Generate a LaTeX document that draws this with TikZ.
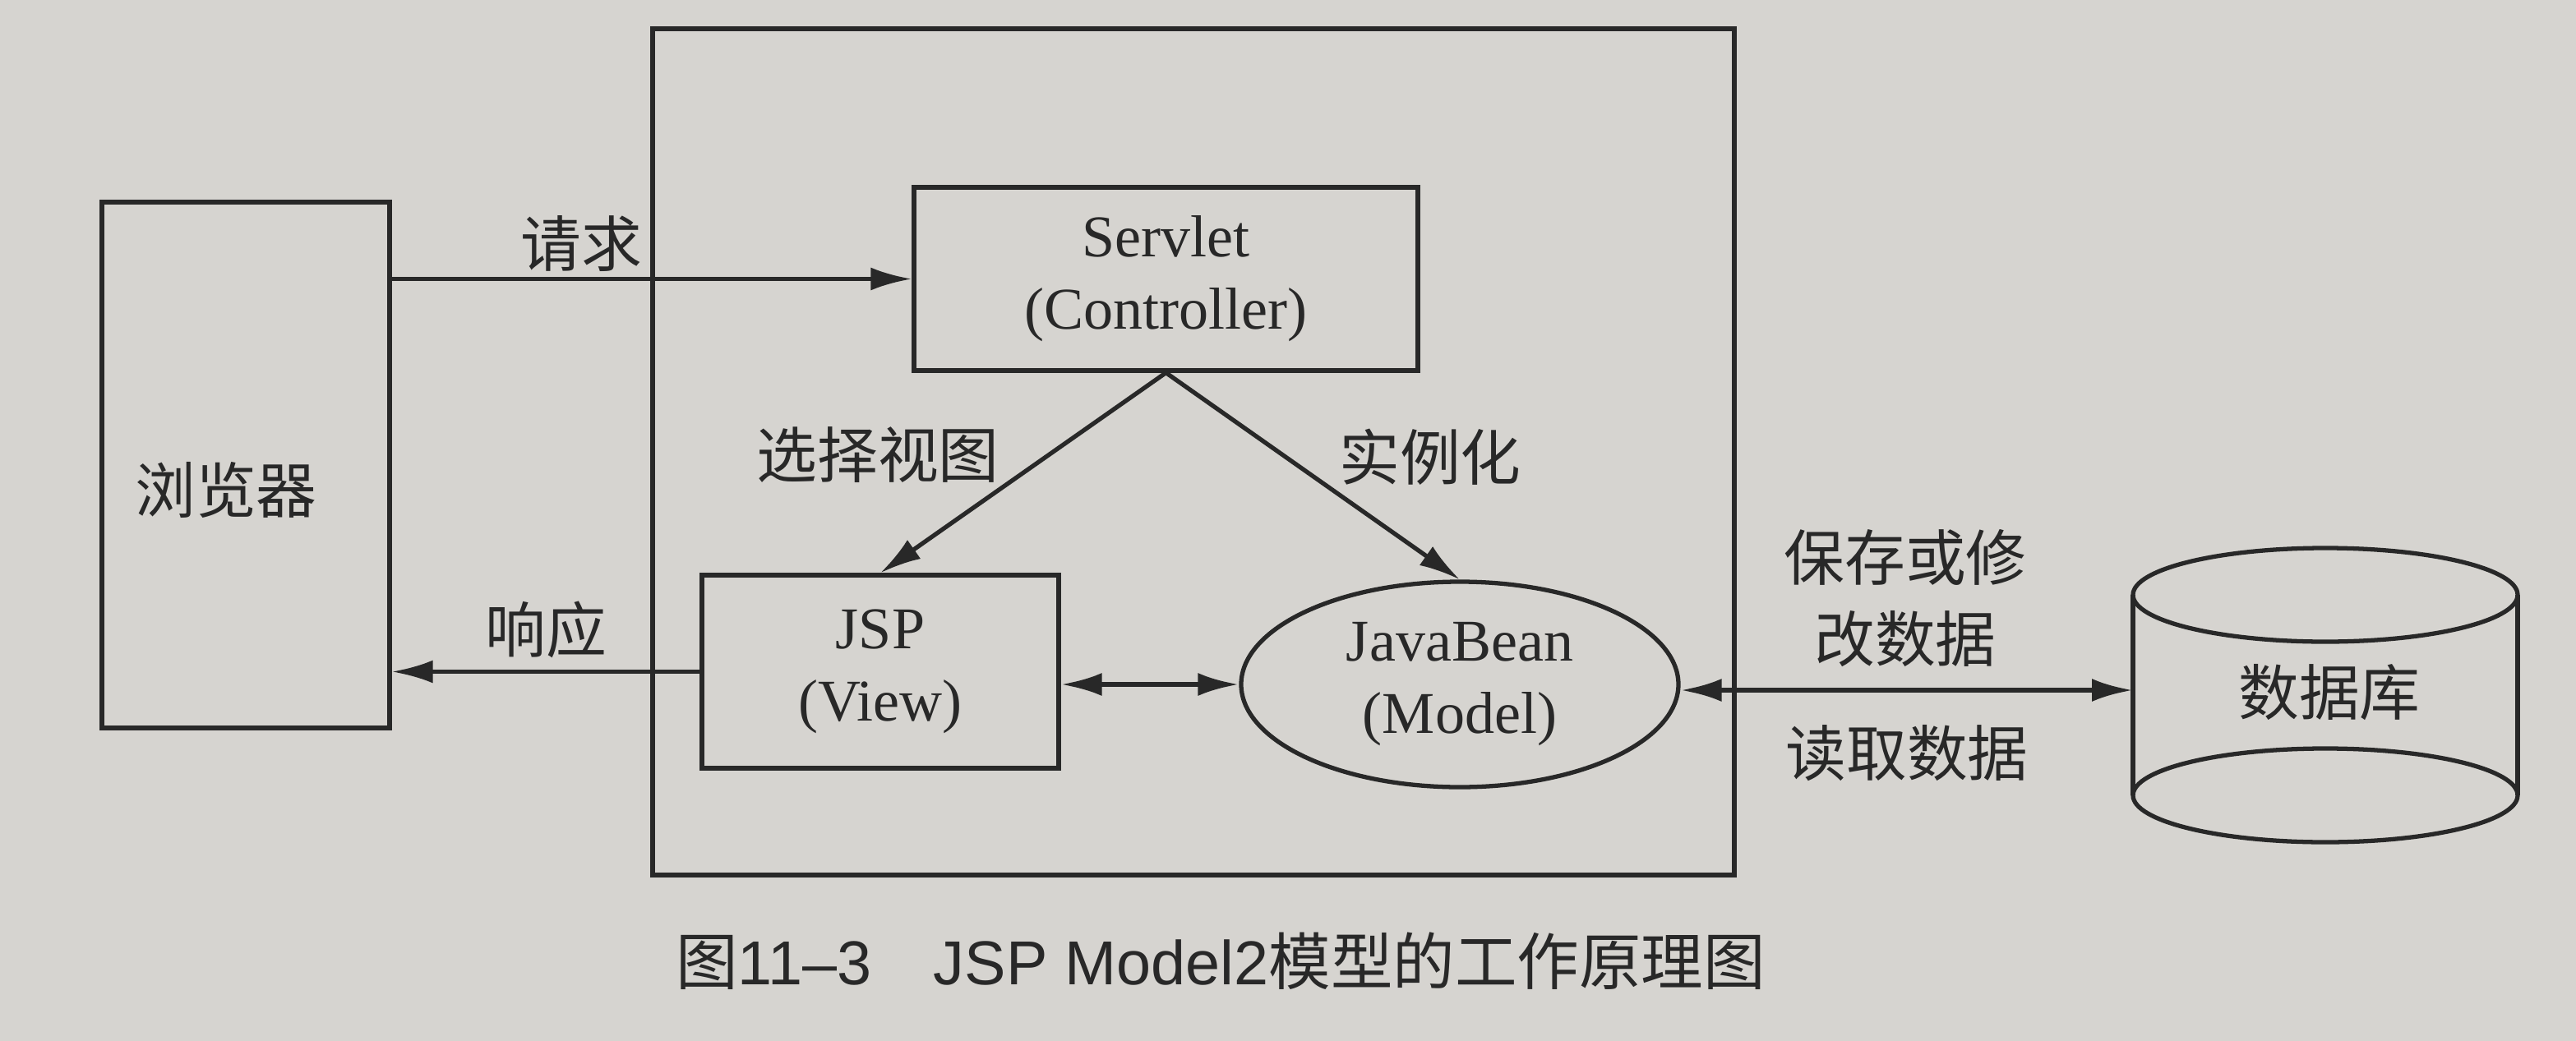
\documentclass[tikz,border=0pt]{standalone}
\usepackage{fontspec}
\setmainfont{Liberation Serif}
\newfontfamily\cjk{Noto Sans CJK SC}
\newfontfamily\capfont{Liberation Sans}
\usetikzlibrary{arrows.meta,shapes.geometric}

\definecolor{paper}{RGB}{214,212,208}
\definecolor{ink}{RGB}{40,40,40}

\tikzset{
	box/.style={draw=ink, line width=1.5pt, inner sep=0pt, align=center, text=ink,
		font=\fontsize{20.5}{25}\selectfont},
	lbl/.style={text=ink, align=center, font=\cjk\fontsize{21}{28}\selectfont},
	arr/.style={-{Latex[length=5mm,width=2.8mm]}, line width=1.5pt, draw=ink},
	darr/.style={{Latex[length=5mm,width=2.8mm]}-{Latex[length=5mm,width=2.8mm]}, line width=1.8pt, draw=ink}
}

\begin{document}
\begin{tikzpicture}

	% page
	\fill[paper] (0,0) rectangle (31.34,-12.67);
	\useasboundingbox (0,0) rectangle (31.34,-12.67);

	% Web container frame
	\draw[ink, line width=1.5pt] (7.94,-0.35) rectangle (21.10,-10.65);

	% Browser
	\node[box, minimum width=3.5cm, minimum height=6.4cm] (browser) at (2.99,-5.66) {};
	\node[lbl] (browsertext) at (2.75,-5.96) {浏览器};

	% Controller, View, Model
	\node[box, minimum width=6.13cm, minimum height=2.23cm] (servlet) at (14.185,-3.395) {Servlet\\(Controller)};
	\node[box, minimum width=4.34cm, minimum height=2.35cm] (jsp) at (10.71,-8.175) {JSP\\(View)};
	\node[box, ellipse, minimum width=5.32cm, minimum height=2.5cm] (bean) at (17.76,-8.33) {JavaBean\\(Model)};

	% Database
	\draw[ink, line width=1.5pt] (28.29,-7.24) ellipse[x radius=2.34, y radius=0.57];
	\draw[ink, line width=1.5pt] (28.29,-9.68) ellipse[x radius=2.34, y radius=0.57];
	\draw[ink, line width=1.5pt] (25.95,-7.24) -- (25.95,-9.68);
	\draw[ink, line width=1.5pt] (30.63,-7.24) -- (30.63,-9.68);
	\coordinate (dbside) at (25.95,-8.40);
	\node[lbl] (db) at (28.34,-8.43) {数据库};

	% request / response
	\draw[arr] (browser.east |- servlet.west) -- (servlet.west);
	\node[lbl] (req) at (7.07,-2.97) {请求};
	\draw[arr] (jsp.west) -- (jsp.west -| browser.east);
	\node[lbl] (resp) at (6.64,-7.66) {响应};

	% controller dispatch
	\draw[arr] (servlet.south) -- (jsp.north);
	\node[lbl] (pick) at (10.68,-5.54) {选择视图};
	\draw[arr] (servlet.south) -- (bean.north);
	\node[lbl] (inst) at (17.40,-5.56) {实例化};

	% view <-> model <-> database
	\draw[darr] (jsp.east |- bean.west) -- (bean.west);
	\draw[darr] (bean.east |- dbside) -- (dbside);
	\node[lbl] (save) at (23.18,-7.28) {保存或修\\改数据};
	\node[lbl] (read) at (23.20,-9.17) {读取数据};

	% caption
	\node[text=ink, font=\fontsize{21.5}{25}\selectfont, anchor=west] (cap) at (8.10,-11.70)
		{{\cjk 图}{\capfont 11–3\quad JSP Model2}{\cjk 模型的工作原理图}};

\end{tikzpicture}
\end{document}
